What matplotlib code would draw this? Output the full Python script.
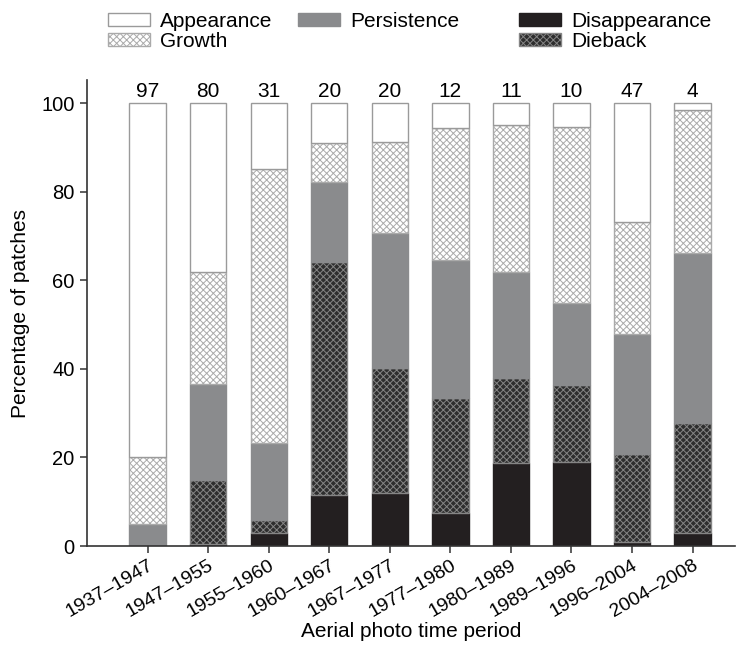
import numpy as np
import matplotlib.pyplot as plt
from matplotlib.patches import Patch

plt.rcParams['font.family'] = ['Liberation Sans', 'DejaVu Sans']
plt.rcParams['hatch.linewidth'] = 0.7

periods = ['1937–1947', '1947–1955', '1955–1960', '1960–1967', '1967–1977',
           '1977–1980', '1980–1989', '1989–1996', '1996–2004', '2004–2008']
n_patches = [97, 80, 31, 20, 20, 12, 11, 10, 47, 4]

# % of patches per class, stacked from the bottom up
disappearance = [0.0, 0.5, 3.0, 11.5, 12.0, 7.5, 18.8, 19.0, 0.8, 3.0]
dieback = [0.0, 14.5, 2.9, 52.7, 28.1, 25.8, 19.2, 17.3, 20.0, 24.8]
persistence = [5.0, 21.6, 17.3, 18.0, 30.5, 31.3, 23.8, 18.5, 27.1, 38.3]
growth = [15.0, 25.2, 61.8, 8.8, 20.7, 29.8, 33.2, 39.7, 25.3, 32.3]
appearance = [80.0, 38.2, 15.0, 9.0, 8.7, 5.6, 5.0, 5.5, 26.8, 1.6]

# (label, values, face, edge/hatch colour, hatch)
classes = [
    ('Disappearance', disappearance, '#231f20', '#231f20', None),
    ('Dieback', dieback, '#2e2e2e', '#858585', 'xxxxx'),
    ('Persistence', persistence, '#8a8b8d', '#8a8b8d', None),
    ('Growth', growth, '#ffffff', '#aaaaaa', 'xxxxx'),
    ('Appearance', appearance, '#ffffff', '#9a9a9a', None),
]

fig = plt.figure(figsize=(7.41, 6.56), dpi=100)
ax = fig.add_axes([87 / 741, 110 / 656, 648 / 741, 466 / 656])

x = np.arange(len(periods))
bottom = np.zeros(len(periods))
handles = {}
for label, vals, fc, ec, hatch in classes:
    vals = np.array(vals)
    ax.bar(x, vals, 0.6, bottom=bottom, color=fc, edgecolor=ec,
           hatch=hatch, linewidth=1.0, zorder=2)
    handles[label] = Patch(facecolor=fc, edgecolor=ec, hatch=hatch, linewidth=1.0)
    bottom += vals

for xi, n in zip(x, n_patches):
    ax.annotate(str(n), (xi, 100), xytext=(0, 1.5), textcoords='offset points',
                ha='center', va='bottom', fontsize=15)

ax.set_xlim(-1, 9.7)
ax.set_ylim(0, 105.2)
ax.set_yticks([0, 20, 40, 60, 80, 100])
ax.set_xticks(x)
ax.set_xticklabels(periods, rotation=30, ha='right', rotation_mode='anchor')
ax.tick_params(axis='both', labelsize=14.5, direction='out', length=5,
               width=1.1, color='#333333', pad=4)
ax.tick_params(axis='x', labelsize=14, pad=3)
for s in ['top', 'right']:
    ax.spines[s].set_visible(False)
for s in ['left', 'bottom']:
    ax.spines[s].set_color('#333333')
    ax.spines[s].set_linewidth(1.2)

ax.set_ylabel('Percentage of patches', fontsize=15, labelpad=8)
ax.set_xlabel('Aerial photo time period', fontsize=15, labelpad=1)

leg_kw = dict(loc='upper left', frameon=False, fontsize=15, borderpad=0,
              borderaxespad=0, handlelength=2.0, handleheight=0.6,
              handletextpad=0.5, labelspacing=0.05)
groups = [(['Appearance', 'Growth'], 108), (['Persistence'], 298),
          (['Disappearance', 'Dieback'], 519)]
for labels, px in groups:
    fig.legend([handles[l] for l in labels], labels,
               bbox_to_anchor=(px / 741, 1 - 12 / 656), **leg_kw)

fig.savefig('out.png', dpi=100)
